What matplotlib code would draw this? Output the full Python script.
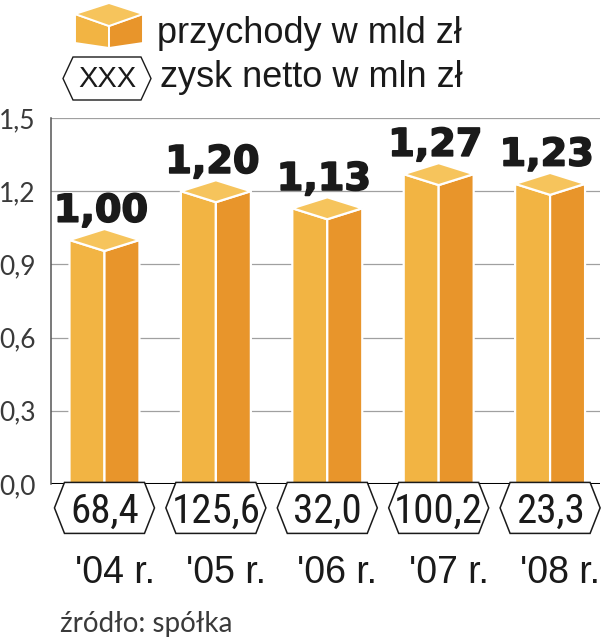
import matplotlib
matplotlib.use('Agg')
import matplotlib.pyplot as plt
from matplotlib import font_manager
from matplotlib import patheffects

years = ["'04 r.", "'05 r.", "'06 r.", "'07 r.", "'08 r."]
revenue = [1.00, 1.20, 1.13, 1.27, 1.23]      # przychody w mld zł
profit = [68.4, 125.6, 32.0, 100.2, 23.3]     # zysk netto w mln zł
y_ticks = [0.0, 0.3, 0.6, 0.9, 1.2, 1.5]

LEFT_C = '#F2B443'
RIGHT_C = '#E8952B'
TOP_C = '#F6C45C'
INK = '#1a1a1a'


def pick(*names):
    have = {f.name for f in font_manager.fontManager.ttflist}
    for n in names:
        if n in have:
            return n
    return 'DejaVu Sans'


def pl(x, nd):
    return f'{x:.{nd}f}'.replace('.', ',')


narrow = pick('Liberation Sans Narrow', 'Roboto Condensed', 'DejaVu Sans Condensed', 'Liberation Sans')
regular = pick('Liberation Sans', 'Roboto', 'DejaVu Sans')
light = pick('Lato', 'Roboto', 'Liberation Sans')

fig = plt.figure(figsize=(6.04, 6.40), dpi=100)

# overlay in pixel units for legend and source
lax = fig.add_axes([0, 0, 1, 1])
lax.set_xlim(0, 604)
lax.set_ylim(640, 0)
lax.axis('off')
lax.patch.set_visible(False)

ax = fig.add_axes([51 / 604, 1 - 484 / 640, 549 / 604, 366 / 640])
ax.set_xlim(-0.48, 4.448)
ax.set_ylim(0, 1.5)

for t in y_ticks[1:]:
    ax.axhline(t, color='#a0a0a0', lw=0.9, zorder=1)
ax.axhline(0, color='black', lw=2.2, zorder=1.5)

w = 0.314   # half bar width
h = 0.045   # half height of top face
for i, v in enumerate(revenue):
    left = [(i - w, 0), (i - w, v), (i, v - h), (i, 0)]
    right = [(i, 0), (i, v - h), (i + w, v), (i + w, 0)]
    top = [(i - w, v), (i, v + h), (i + w, v), (i, v - h)]
    for pts, col in ((left, LEFT_C), (right, RIGHT_C), (top, TOP_C)):
        ax.add_patch(plt.Polygon(pts, closed=True, facecolor=col, edgecolor='white',
                                 lw=1.6, joinstyle='miter', zorder=2))
    ax.text(i - 0.03, v + 0.075, pl(v, 2), ha='center', va='baseline', fontsize=27.5,
            fontweight='bold', family='DejaVu Sans', color=INK, zorder=3,
            path_effects=[patheffects.withStroke(linewidth=1.2, foreground=INK)])

# hexagons with net profit
hw, tip, cy, hh = 0.449, 0.09, -0.098, 0.1045
for i, p in enumerate(profit):
    hexagon = [(i - hw, cy), (i - hw + tip, cy + hh), (i + hw - tip, cy + hh),
               (i + hw, cy), (i + hw - tip, cy - hh), (i - hw + tip, cy - hh)]
    ax.add_patch(plt.Polygon(hexagon, closed=True, facecolor='white', edgecolor=INK,
                             lw=1.1, clip_on=False, zorder=3))
    ax.text(i, -0.160, pl(p, 1), ha='center', va='baseline', fontsize=29.5,
            family=narrow, color=INK, clip_on=False, zorder=4)
    ax.text(i + 0.09, -0.406, years[i], ha='center', va='baseline', fontsize=27,
            family=regular, color=INK, clip_on=False)

ax.set_yticks(y_ticks, labels=[pl(t, 1) for t in y_ticks])
for lab in ax.get_yticklabels():
    lab.set_family(light)
ax.tick_params(axis='y', length=0, pad=11, labelsize=19, labelcolor='#3a3a3a')
ax.set_xticks([])
for s in ('top', 'right', 'bottom'):
    ax.spines[s].set_visible(False)
ax.spines['left'].set_color('#555555')
ax.spines['left'].set_linewidth(1.1)
ax.patch.set_visible(False)

# legend: box icon
bx_l, bx_c, bx_r = 75, 109, 143
lax.add_patch(plt.Polygon([(bx_l, 14), (bx_c, 26), (bx_c, 48), (bx_l, 43)],
                          facecolor=LEFT_C, edgecolor='white', lw=1.4))
lax.add_patch(plt.Polygon([(bx_c, 26), (bx_r, 14), (bx_r, 43), (bx_c, 48)],
                          facecolor=RIGHT_C, edgecolor='white', lw=1.4))
lax.add_patch(plt.Polygon([(bx_l, 14), (bx_c, 3), (bx_r, 14), (bx_c, 26)],
                          facecolor=TOP_C, edgecolor='white', lw=1.4))
lax.text(157, 43, 'przychody w mld zł', fontsize=26, family=regular, color=INK, va='baseline')

# legend: hexagon icon
hx, hy = 107, 78.5
lax.add_patch(plt.Polygon([(hx - 44, hy), (hx - 34, hy - 21.5), (hx + 34, hy - 21.5),
                           (hx + 44, hy), (hx + 34, hy + 21.5), (hx - 34, hy + 21.5)],
                          facecolor='white', edgecolor=INK, lw=1.0))
lax.text(hx, 87, 'XXX', fontsize=21, family=regular, color=INK, ha='center', va='baseline')
lax.text(160, 87, 'zysk netto w mln zł', fontsize=26, family=regular, color=INK, va='baseline')

lax.text(60, 632, 'źródło: spółka', fontsize=20, family=light,
         color='#3a3a3a', va='baseline')

fig.savefig('out.png', dpi=100)
